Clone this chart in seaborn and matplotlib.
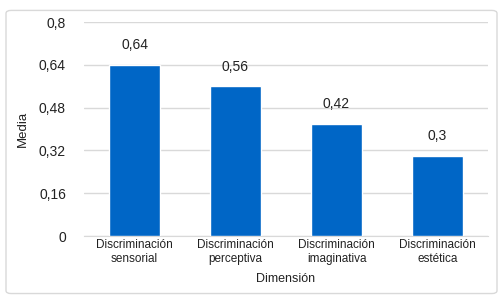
import numpy as np
import pandas as pd
import seaborn as sns
import matplotlib.pyplot as plt
from matplotlib.patches import FancyBboxPatch
from matplotlib.ticker import FuncFormatter

categorias = ["Discriminación\nsensorial", "Discriminación\nperceptiva",
              "Discriminación\nimaginativa", "Discriminación\nestética"]
medias = [0.64, 0.56, 0.42, 0.30]
etiquetas = ["0,64", "0,56", "0,42", "0,3"]
yticks = [0, 0.16, 0.32, 0.48, 0.64, 0.8]

df = pd.DataFrame({"Dimensión": categorias, "Media": medias})

sns.set_style("white")
plt.rcParams['font.family'] = ['Liberation Sans', 'DejaVu Sans']

fig = plt.figure(figsize=(5, 2.98), dpi=100)
ax = fig.add_axes([0.168, 0.208, 0.808, 0.718])

sns.barplot(data=df, x="Dimensión", y="Media", color="#0066C6", width=0.5,
            saturation=1, ax=ax, zorder=3)

for p, lab in zip(ax.patches, etiquetas):
    ax.annotate(lab, (p.get_x() + p.get_width() / 2, p.get_height()),
                xytext=(0, 9), textcoords="offset points",
                ha="center", va="bottom", fontsize=10, color="#222222")

ax.set_ylim(0, 0.8)
ax.set_yticks(yticks)
ax.yaxis.set_major_formatter(FuncFormatter(lambda v, pos: f"{v:g}".replace('.', ',')))
ax.grid(axis='y', color='#d9d9d9', linewidth=1, zorder=0)
for s in ['top', 'right', 'left']:
    ax.spines[s].set_visible(False)
ax.spines['bottom'].set_color('#d9d9d9')
ax.tick_params(axis='y', length=0, pad=13, labelsize=10, colors="#222222")
ax.tick_params(axis='x', length=0, pad=2, labelsize=8.5, colors="#222222")
for t in ax.get_xticklabels():
    t.set_multialignment('center')
ax.set_xlabel("Dimensión", fontsize=9, color="#222222", labelpad=6)
ax.set_ylabel("Media", fontsize=9.5, color="#222222", labelpad=7)

border = FancyBboxPatch((0.012, 0.015), 0.982, 0.95, boxstyle="round,pad=0,rounding_size=0.01",
                        transform=fig.transFigure, fill=False, edgecolor="#d9d9d9",
                        linewidth=1)
fig.patches.append(border)

plt.savefig("out.png", dpi=100)
